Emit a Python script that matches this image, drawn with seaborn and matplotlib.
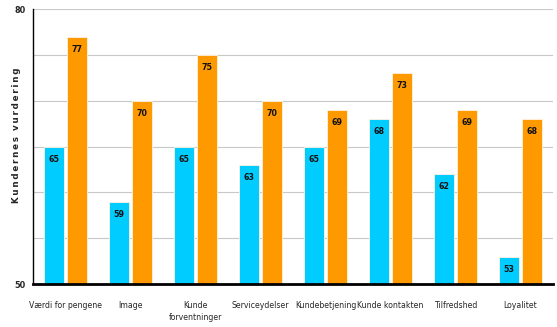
import matplotlib
matplotlib.use("Agg")
import matplotlib.pyplot as plt
import seaborn as sns
import pandas as pd
import numpy as np

categories = ["Værdi for pengene", "Image", "Kunde\nforventninger", "Serviceydelser",
              "Kundebetjening", "Kunde kontakten", "Tilfredshed", "Loyalitet"]
series_a = [65, 59, 65, 63, 65, 68, 62, 53]
series_b = [77, 70, 75, 70, 69, 73, 69, 68]
series_names = ["A", "B"]
colors = ["#00CCFF", "#FF9900"]

df = pd.DataFrame({
    "cat": categories * 2,
    "val": series_a + series_b,
    "ser": [series_names[0]] * len(categories) + [series_names[1]] * len(categories),
})

sns.set_style("white")
plt.rcParams["font.family"] = ["DejaVu Sans"]
plt.rcParams["font.stretch"] = "condensed"

fig = plt.figure(figsize=(5.57, 3.27), dpi=100)
ax = fig.add_axes([33/557, 43/327, 520/557, 275/327])

sns.barplot(data=df, x="cat", y="val", hue="ser", order=categories,
            palette=colors, width=0.7, gap=0.1, ax=ax, legend=False,
            edgecolor="#FFF3E0", linewidth=0.6, saturation=1)

for cont in ax.containers:
    for bar in cont:
        h = bar.get_height()
        ax.text(bar.get_x() + bar.get_width() / 2, h - 0.9, f"{int(round(h))}",
                ha="center", va="top", fontsize=6.3, fontweight="bold",
                fontstretch="condensed", color="#111111")

ax.set_ylim(50, 80)
ax.set_xlim(-0.5, 7.5)
ax.set_yticks([50, 80])
ax.set_yticklabels(["50", "80"], fontsize=6.5, fontweight="bold", fontstretch="condensed")
for y in [55, 60, 65, 70, 75, 80]:
    ax.axhline(y, color="#C8C8C8", linewidth=0.8, zorder=0)

ax.set_xticks(range(len(categories)))
ax.set_xticklabels(categories, fontsize=6.2, fontstretch="condensed", linespacing=1.5)
ax.tick_params(axis="x", which="major", length=0, pad=12)
ax.set_xticks(np.arange(-0.5, len(categories), 1.0), minor=True)
ax.tick_params(axis="x", which="minor", length=3, width=1, direction="out", color="black")
ax.tick_params(axis="y", length=3, width=0.8, direction="out", pad=2)

ax.set_xlabel("")
ax.set_ylabel("")
label = "\u2009".join(list("Kundernes")) + "  " + "\u2009".join(list("vurdering"))
fig.text(17/557, 1 - 135/327, label, rotation=90,
         ha="center", va="center", fontsize=6.3, fontweight="bold", fontstretch="normal")

for s in ["top", "right"]:
    ax.spines[s].set_visible(False)
ax.spines["left"].set_color("black")
ax.spines["left"].set_linewidth(1)
ax.spines["bottom"].set_color("black")
ax.spines["bottom"].set_linewidth(2)

fig.savefig("out.png", dpi=100)
